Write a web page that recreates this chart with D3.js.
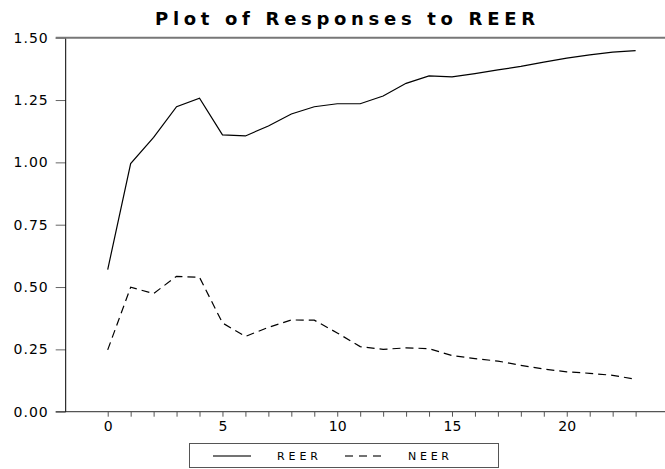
<!DOCTYPE html>
<html>
<head>
<meta charset="utf-8">
<script src="https://cdn.jsdelivr.net/npm/d3@7"></script>
<style>
  body { margin: 0; background: #fff; }
  svg { display: block; font-family: "DejaVu Sans", Verdana, sans-serif; }
</style>
</head>
<body>
<div id="chart"></div>
<script>
// periods after the shock
var periods = d3.range(0, 24);

// responses
var reer = [0.57, 0.995, 1.10, 1.223, 1.257, 1.110, 1.106, 1.146, 1.194, 1.223,
            1.235, 1.235, 1.266, 1.317, 1.347, 1.343, 1.356, 1.371, 1.385, 1.402,
            1.418, 1.431, 1.442, 1.448];
var neer = [0.248, 0.499, 0.474, 0.543, 0.539, 0.356, 0.302, 0.338, 0.368, 0.367,
            0.316, 0.261, 0.250, 0.256, 0.253, 0.225, 0.213, 0.203, 0.186, 0.171,
            0.160, 0.154, 0.146, 0.130];

var yTicks = [0, 0.25, 0.5, 0.75, 1.0, 1.25, 1.5];
var xLabels = [0, 5, 10, 15, 20];
var seriesNames = ["REER", "NEER"];

var svgWidth = 665, svgHeight = 469;
var svg = d3.select("#chart").append("svg")
    .attr("width", svgWidth).attr("height", svgHeight);

// plot area (window.top is taken, so plot* names)
var plotLeft = 65.7, plotRight = 665, plotTop = 37.7, plotBottom = 411.7;

var xScale = d3.scaleLinear().domain([-1.83, 24.28]).range([plotLeft, plotRight]);
var yScale = d3.scaleLinear().domain([0, 1.5]).range([plotBottom, plotTop]);

// title
svg.append("text")
    .attr("x", 345).attr("y", 25)
    .attr("text-anchor", "middle")
    .attr("font-size", 18).attr("font-weight", "bold")
    .attr("textLength", 380).attr("lengthAdjust", "spacing")
    .text("Plot of Responses to REER");

// y axis ticks + labels
var yAxis = d3.axisLeft(yScale)
    .tickValues(yTicks)
    .tickFormat(d3.format(".2f"))
    .tickSize(10).tickPadding(7);
var gy = svg.append("g").attr("transform", `translate(${plotLeft},0)`).call(yAxis);
gy.select(".domain").remove();
gy.selectAll(".tick line").attr("stroke", "#666");
gy.selectAll(".tick text")
    .attr("font-size", 14).attr("fill", "#000")
    .attr("letter-spacing", 1)
    .attr("font-family", "DejaVu Sans, sans-serif");

// x axis ticks + labels
var xAxis = d3.axisBottom(xScale)
    .tickValues(periods)
    .tickFormat(d => xLabels.indexOf(d) >= 0 ? d : "")
    .tickSize(5).tickPadding(4);
var gx = svg.append("g").attr("transform", `translate(0,${plotBottom})`).call(xAxis);
gx.select(".domain").remove();
gx.selectAll(".tick line").attr("stroke", "#555");
gx.selectAll(".tick text")
    .attr("font-size", 14).attr("fill", "#000")
    .attr("font-family", "DejaVu Sans, sans-serif");

// frame lines
svg.append("line")
    .attr("x1", plotLeft - 10).attr("x2", plotRight)
    .attr("y1", plotTop).attr("y2", plotTop)
    .attr("stroke", "#777").attr("stroke-width", 2);
svg.append("line")
    .attr("x1", plotLeft - 10).attr("x2", plotRight)
    .attr("y1", plotBottom).attr("y2", plotBottom)
    .attr("stroke", "#555").attr("stroke-width", 1.2);
svg.append("line")
    .attr("x1", plotLeft).attr("x2", plotLeft)
    .attr("y1", plotTop + 1).attr("y2", plotBottom)
    .attr("stroke", "#000").attr("stroke-width", 1);

// the two response lines
var line = d3.line()
    .x((d, i) => xScale(periods[i]))
    .y(d => yScale(d));

svg.append("path")
    .datum(reer)
    .attr("d", line)
    .attr("fill", "none").attr("stroke", "#000").attr("stroke-width", 1.2);

svg.append("path")
    .datum(neer)
    .attr("d", line)
    .attr("fill", "none").attr("stroke", "#000").attr("stroke-width", 1.2)
    .attr("stroke-dasharray", "8,5");

// legend
var lg = svg.append("g");
lg.append("rect")
    .attr("x", 189.5).attr("y", 443.5)
    .attr("width", 309).attr("height", 24)
    .attr("fill", "none").attr("stroke", "#555").attr("stroke-width", 1);

var legendItems = [
    {name: seriesNames[0], x1: 213, x2: 251, tx: 277, dash: null},
    {name: seriesNames[1], x1: 345, x2: 384, tx: 408, dash: "8,6"}
];
legendItems.forEach(function(d) {
    lg.append("line")
        .attr("x1", d.x1).attr("x2", d.x2)
        .attr("y1", 456).attr("y2", 456)
        .attr("stroke", "#444").attr("stroke-width", 1.5)
        .attr("stroke-dasharray", d.dash);
    lg.append("text")
        .attr("x", d.tx).attr("y", 460)
        .attr("font-size", 11)
        .attr("textLength", 41).attr("lengthAdjust", "spacing")
        .text(d.name);
});
</script>
</body>
</html>
